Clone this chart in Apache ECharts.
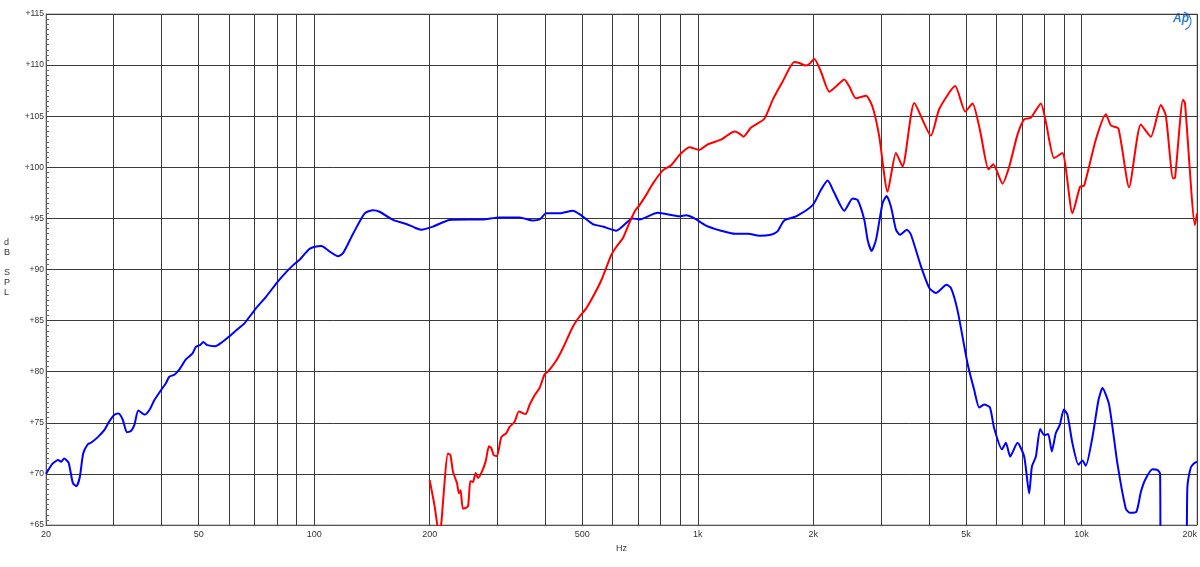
<!DOCTYPE html>
<html>
<head>
<meta charset="utf-8">
<script src="https://cdn.jsdelivr.net/npm/echarts@6/dist/echarts.min.js"></script>
<style>html,body{margin:0;padding:0;background:#fff}#c{width:1200px;height:567px}</style>
</head>
<body>
<div id="c"></div>
<script>
// Frequencies (Hz) and levels (dB SPL)
const blueFreq = [20,20.8,21.5,21.9,22.3,22.9,23.5,24.0,24.5,25.0,25.7,26.2,27.3,28.4,29.2,30.1,30.9,31.7,32.5,33.3,34.0,34.8,36.2,37.2,38.3,39.9,41.1,41.9,43.2,44.5,46.3,48.2,49.2,50.4,51.4,52.7,55.2,57.1,59.8,63.1,65.7,70.5,74.8,80.3,84.3,88.6,91.3,97.0,99.9,104.5,109.8,115.4,118.9,126.3,135.4,142.3,148.1,160.5,173.9,182.8,190.3,204,225.5,275.3,304.3,343.1,371.6,386.8,402.7,436.2,472.3,496.7,532.4,565.6,612.7,676.6,704.7,786,895.5,932,980,1050,1150,1250,1350,1450,1550,1610,1680,1803,1992,2094,2179,2268,2408,2532,2609,2716,2770,2837,2913,3031,3104,3187,3284,3364,3508,3594,3816,4010,4174,4448,4567,4752,5046,5253,5413,5578,5772,5922,6202,6352,6518,6810,7089,7305,7424,7604,7802,7991,8186,8368,8572,8780,8994,9190,9470,9818,10056,10263,10678,11070,11340,11804,12406,13046,13362,13902,14274,14646,15302,15768,16026,16100,18650,18872,19258,19600,20000];
const blueDb = [70.0,71.0,71.36,71.2,71.5,71.1,69.1,68.8,69.7,72.0,72.9,73.05,73.6,74.3,75.1,75.76,75.9,75.3,74.07,74.2,74.8,76.2,75.8,76.25,77.2,78.2,78.9,79.5,79.7,80.2,81.2,81.8,82.45,82.6,82.9,82.6,82.5,82.8,83.4,84.15,84.7,86.2,87.3,88.8,89.7,90.5,90.9,91.98,92.2,92.3,91.75,91.3,91.6,93.5,95.5,95.8,95.65,94.85,94.45,94.1,93.9,94.2,94.85,94.9,95.1,95.1,94.8,94.9,95.5,95.5,95.75,95.3,94.45,94.2,93.8,95.0,94.9,95.55,95.2,95.3,95.0,94.3,93.8,93.5,93.5,93.3,93.4,93.7,94.8,95.2,96.3,97.8,98.7,97.5,95.75,96.95,96.8,94.85,92.9,91.8,92.9,96.5,97.2,96.15,93.9,93.4,93.9,93.4,90.3,88.2,87.7,88.5,88.2,86.0,80.8,78.2,76.5,76.8,76.5,74.45,72.4,73.05,71.7,73.05,71.7,68.1,70.7,71.7,74.4,73.8,73.9,72.2,74.0,74.8,76.3,75.8,73.0,70.9,71.3,70.8,73.6,77.2,78.4,76.75,71.0,66.6,66.2,66.3,68.2,69.4,70.45,70.4,70.0,55,55,68.6,70.6,71.0,71.2];

const redFreq = [200,206.1,210.2,212,214.5,223.2,226.5,230.1,235.6,238.4,240.8,244.2,251.6,255.3,259.3,263.6,267.2,272.7,279.8,285.4,289.6,293.6,299.5,307.5,316.9,323.2,333.0,341.7,355.7,364.3,375.4,386.8,398.6,406.6,427.6,444.8,472.3,491.7,511.8,532.4,560.2,594.6,612.7,637.4,656.9,683.8,704.7,733.6,763.2,810.4,852.2,895.5,951.2,1009.9,1061.4,1150,1196.5,1245.6,1278.1,1314.6,1376.7,1490.9,1567,1664,1784,1838,1914,1952,2012,2094,2201,2291,2408,2482,2584,2744,2854,2971,3123,3284,3417,3666,4051,4258,4686,4977,5200,5436,5724,5888,6224,6479,6810,7089,7380,7835,8073,8484,8918,9470,9917,10158,10895,11573,11925,12480,13306,14274,15156,16093,16582,17324,17534,18384,18606,19761,20000];
const redDb = [69.4,66.8,64.5,63.5,65.2,72.0,71.85,70.2,69.1,68.1,68.4,66.6,66.8,69.3,69.2,70.1,69.6,70.1,71.2,72.7,72.5,71.85,71.75,73.6,74.0,74.6,75.1,76.1,75.85,76.75,77.7,78.4,79.75,80.0,81.1,82.3,84.4,85.4,86.2,87.3,88.95,91.4,92.2,93.05,94.2,95.65,96.3,97.3,98.4,99.7,100.2,101.2,101.95,101.7,102.25,102.7,103.15,103.5,103.35,103.0,103.9,104.75,106.6,108.4,110.3,110.2,109.95,110.1,110.6,109.35,107.4,107.9,108.6,107.9,106.75,107.0,105.9,103.0,97.6,101.4,100.1,106.3,103.1,105.7,107.95,105.45,106.25,103.65,99.8,100.3,98.4,100.05,103.2,104.7,104.85,106.25,104.45,100.9,101.4,95.5,98.1,98.2,102.7,105.2,104.1,103.8,98.05,104.2,103.0,106.1,105.1,98.9,99.0,106.6,106.3,94.35,95.5];

const gridFreqs = [20,30,40,50,60,70,80,90,100,200,300,400,500,600,700,800,900,1000,2000,3000,4000,5000,6000,7000,8000,9000,10000,20000];
const labelFreqs = [20,50,100,200,500,1000,2000,5000,10000,20000];
const yTicks = {min: 65, max: 115, step: 5};

const zip = (a, b) => a.map((v, i) => [v, b[i]]);
const fmtHz = f => f >= 1000 ? (f / 1000) + 'k' : String(f);
const FONT = '"Liberation Sans", Arial, sans-serif';

const chart = echarts.init(document.getElementById('c'), null, {renderer: 'canvas'});
chart.setOption({
  animation: false,
  backgroundColor: '#fff',
  grid: {left: 46, right: 2, top: 14, bottom: 42, show: true, borderColor: '#9a9a9a', borderWidth: 1},
  xAxis: [
    {type: 'log', logBase: 10, min: 20, max: 20000, show: false},
    {type: 'value', position: 'bottom', min: Math.log10(20), max: Math.log10(20000),
     name: 'Hz', nameLocation: 'middle', nameGap: 18,
     nameTextStyle: {fontFamily: FONT, fontSize: 9, color: '#333'},
     axisLine: {show: true, lineStyle: {color: '#555', width: 1}},
     axisTick: {show: false, customValues: gridFreqs.map(f => Math.log10(f))},
     axisLabel: {customValues: labelFreqs.map(f => Math.log10(f)), formatter: v => fmtHz(Math.round(Math.pow(10, v))),
                 fontFamily: FONT, fontSize: 9, color: '#333', margin: 5, alignMaxLabel: 'right', alignMinLabel: 'center'},
     splitLine: {show: true, lineStyle: {color: '#3a3a3a', width: 1}}}
  ],
  yAxis: {type: 'value', min: yTicks.min, max: yTicks.max, interval: yTicks.step,
    axisLine: {show: true, lineStyle: {color: '#555', width: 1}},
    axisTick: {show: false},
    minorTick: {show: true, splitNumber: 10, length: -3, lineStyle: {color: '#666', width: 1}},
    axisLabel: {formatter: v => '+' + v, fontFamily: FONT, fontSize: 8.5, color: '#333', margin: 2},
    splitLine: {show: true, lineStyle: {color: '#3a3a3a', width: 1}}
  },
  graphic: [
    {type: 'text', left: 4, top: 238, style: {text: 'd\nB\n\nS\nP\nL', fontFamily: FONT, fontSize: 9, lineHeight: 10, fill: '#333'}},
    {type: 'text', left: 1173, top: 13, style: {text: 'Ap', fontFamily: FONT, fontSize: 12, fontStyle: 'italic', fontWeight: 'bold', fill: '#2d7fd0'}},
    {type: 'arc', shape: {cx: 1182, cy: 21, r: 9, startAngle: -Math.PI / 2.3, endAngle: Math.PI / 2.6}, style: {stroke: '#2d7fd0', lineWidth: 1.2, fill: null}}
  ],
  series: [
    {type: 'line', name: 'blue', xAxisIndex: 0, data: zip(blueFreq, blueDb), showSymbol: false, smooth: 0.2,
     lineStyle: {color: '#0000ff', width: 2}, clip: true},
    {type: 'line', name: 'red', xAxisIndex: 0, data: zip(redFreq, redDb), showSymbol: false, smooth: 0.2,
     lineStyle: {color: '#ff0000', width: 2}, clip: true}
  ]
});
</script>
</body>
</html>
